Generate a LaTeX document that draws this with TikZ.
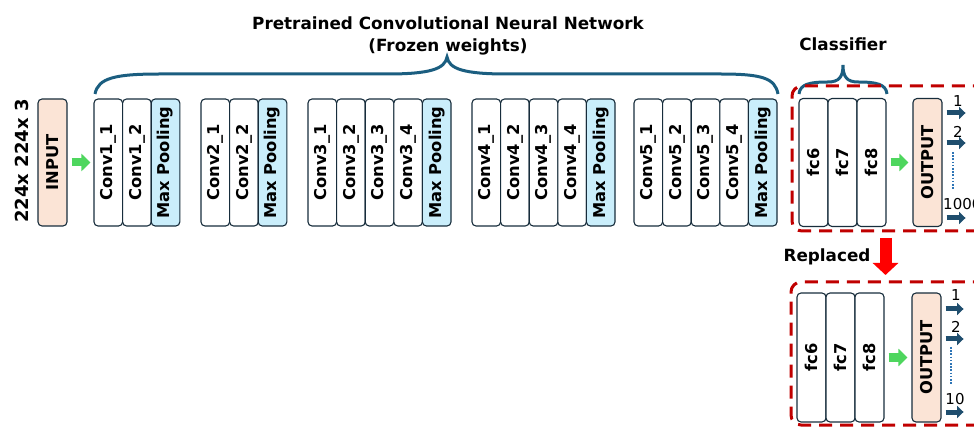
\documentclass[tikz,border=0pt]{standalone}
\usepackage{fontspec}
\setmainfont{DejaVu Sans}
\usetikzlibrary{arrows.meta}
\definecolor{boxc}{RGB}{23,45,60}
\definecolor{inc}{RGB}{251,228,214}
\definecolor{poolc}{RGB}{202,238,251}
\definecolor{bracec}{RGB}{27,94,128}
\definecolor{gc}{RGB}{78,214,94}
\definecolor{dred}{RGB}{192,0,0}
\definecolor{oc}{RGB}{31,78,110}
\definecolor{dotc}{RGB}{46,117,182}
\begin{document}
\begin{tikzpicture}[x=1pt,y=-1pt,
  box/.style={draw=boxc,line width=1.1pt,rounded corners=4pt,minimum width=28.6pt,minimum height=127pt,inner sep=0pt,fill=white,font=\fontsize{16.3}{19}\selectfont\bfseries},
  fcbox/.style={box,minimum width=29pt,minimum height=128pt},
  garrow/.style={draw=gc,line width=8pt,-{Triangle[width=17pt,length=9pt]}},
  oarrow/.style={draw=oc,line width=5pt,-{Triangle[width=12pt,length=6.5pt]}},
  dotline/.style={draw=dotc,line width=1.6pt,dash pattern=on 1.6pt off 1.6pt},
  redframe/.style={draw=dred,line width=3pt,dash pattern=on 13pt off 8pt,rounded corners=10pt},
  brace/.style={draw=bracec,line width=3pt},
  lbl/.style={font=\fontsize{16.8}{22}\selectfont\bfseries,inner sep=0pt,align=center},
  num/.style={font=\fontsize{15}{17}\selectfont,inner sep=0pt}
]
\useasboundingbox (0,0) rectangle (974,427);
\clip (0,0) rectangle (974,427);

% title and brace
\node[lbl] (title) at (448,36) {Pretrained Convolutional Neural Network\\(Frozen weights)};
\draw[brace] (95,94) .. controls (98,78) and (115,74) .. (160,74) -- (387,74)
  .. controls (430,74) and (445,69) .. (447,57)
  .. controls (449,69) and (464,74) .. (507,74) -- (720,74)
  .. controls (762,74) and (775,78) .. (778,94);

% input
\node[font=\fontsize{18}{20}\selectfont\bfseries,rotate=90,inner sep=0pt] (dim) at (21.5,161) {224x 224x 3};
\node[box,fill=inc,minimum width=29pt] (inp) at (52.5,162.5) {\rotatebox{90}{INPUT}};

% conv groups
\foreach \g/\x/\n in {1/94/2,2/201/2,3/308/4,4/472/4,5/634/4} {
  \foreach \i in {1,...,\n} {
    \node[box] (c\g\i) at ({\x+(\i-0.5)*28.6},162.5) {\rotatebox{90}{Conv\g\_\i}};
  }
  \node[box,fill=poolc] (p\g) at ({\x+(\n+0.5)*28.6},162.5) {\rotatebox{90}{Max Pooling}};
}
\draw[garrow,shorten <=4pt,shorten >=3pt] (inp.east) -- (c11.west);

% classifier (top)
\node[lbl] (clsl) at (843,44) {Classifier};
\draw[brace] (799,94) .. controls (800,84) and (810,82) .. (828,82)
  .. controls (839,82) and (843,77) .. (843,65)
  .. controls (843,77) and (847,82) .. (858,82)
  .. controls (876,82) and (886,84) .. (887,94);
\draw[redframe] (1000,231) -- (792,231) -- (792,86) -- (1000,86);
\node[fcbox] (fa6) at (813.5,162.5) {\rotatebox{90}{fc6}};
\node[fcbox] (fa7) at (842.5,162.5) {\rotatebox{90}{fc7}};
\node[fcbox] (fa8) at (871.5,162.5) {\rotatebox{90}{fc8}};
\node[fcbox,fill=inc] (outa) at (927.5,162.5) {\rotatebox{90}{OUTPUT}};
\draw[garrow,shorten <=4pt,shorten >=4pt] (fa8.east) -- (outa.west);
\draw[oarrow] ([xshift=4pt,yshift=49.5pt]outa.east) -- ++(19,0);
\draw[oarrow] ([xshift=4pt,yshift=19.5pt]outa.east) -- ++(19,0);
\draw[oarrow] ([xshift=4pt,yshift=-55.5pt]outa.east) -- ++(19,0);
\node[num] (na1) at (958,101) {1};
\node[num] (na2) at (958,132) {2};
\node[num,anchor=west] (na3) at (943,204) {1000};
\draw[dotline] (953,152) -- (953,190);

% replaced arrow
\node[lbl] (repl) at (827,257) {Replaced};
\draw[draw=red,line width=12pt,-{Triangle[width=25pt,length=12pt]}] (885.5,238) -- (885.5,275);

% classifier (bottom)
\draw[redframe] (1000,425) -- (791,425) -- (791,282) -- (1000,282);
\node[fcbox,minimum height=129pt] (fb6) at (811.5,357.5) {\rotatebox{90}{fc6}};
\node[fcbox,minimum height=129pt] (fb7) at (840.5,357.5) {\rotatebox{90}{fc7}};
\node[fcbox,minimum height=129pt] (fb8) at (869.5,357.5) {\rotatebox{90}{fc8}};
\node[fcbox,minimum height=129pt,fill=inc] (outb) at (926.5,357.5) {\rotatebox{90}{OUTPUT}};
\draw[garrow,shorten <=4pt,shorten >=4pt] (fb8.east) -- (outb.west);
\draw[oarrow] ([xshift=4pt,yshift=48.5pt]outb.east) -- ++(18,0);
\draw[oarrow] ([xshift=4pt,yshift=18.5pt]outb.east) -- ++(18,0);
\draw[oarrow] ([xshift=4pt,yshift=-54.5pt]outb.east) -- ++(18,0);
\node[num] (nb1) at (956,295) {1};
\node[num] (nb2) at (956,327) {2};
\node[num] (nb3) at (955,399) {10};
\draw[dotline] (951,347) -- (951,385);
\end{tikzpicture}
\end{document}
